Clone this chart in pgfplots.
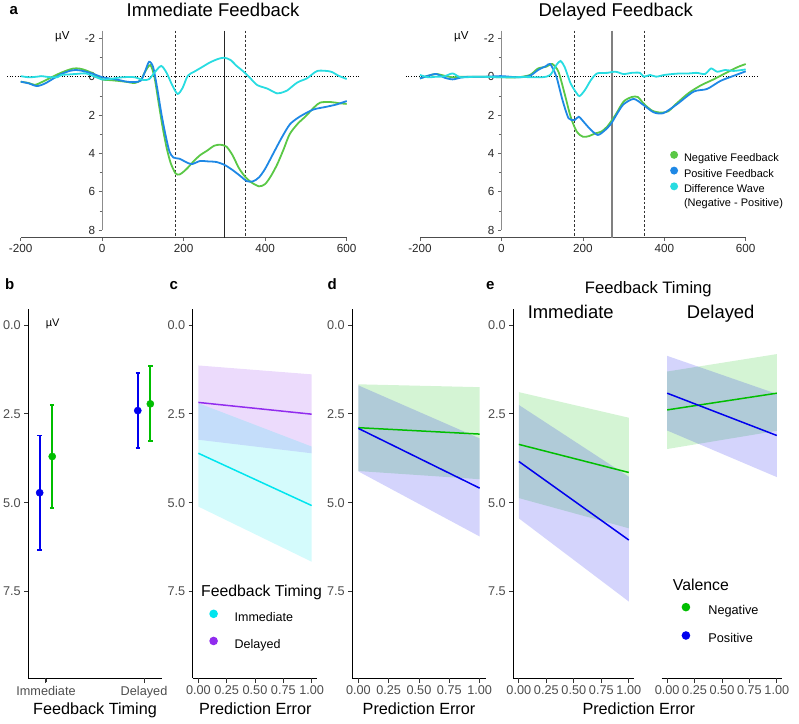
\documentclass[border=0pt]{standalone}
\usepackage{fontspec}
\setmainfont{Liberation Sans}
\usepackage{pgfplots}
\pgfplotsset{compat=1.18}
\definecolor{negG}{RGB}{90,200,70}
\definecolor{posB}{RGB}{30,136,229}
\definecolor{difC}{RGB}{40,220,225}
\definecolor{gG}{RGB}{0,190,0}
\definecolor{bB}{RGB}{0,0,238}
\definecolor{cC}{RGB}{0,229,238}
\definecolor{pP}{RGB}{145,44,238}
\definecolor{tickgray}{RGB}{77,77,77}
\pgfplotsset{
 erp/.style={scale only axis, height=207pt, xmin=-200, xmax=600, ymin=-2.4, ymax=8.4, y dir=reverse,
  axis x line=bottom, axis y line=middle, axis line style={-},
  x axis line style={black!70, line width=0.8pt}, y axis line style={black!45, line width=0.9pt, shorten >=7.5pt},
  clip=false, xtick={-200,0,200,400,600}, xticklabels={-200,0,200,400,600},
  ytick={-2,0,2,4,6,8}, yticklabels={-2,0,2,4,6,8}, minor ytick={-1,1,3,5,7},
  tick align=outside, major tick length=3.5pt, minor tick length=2.5pt,
  tick style={black!60, line width=0.6pt},
  tick label style={font=\fontsize{11.7}{13}\selectfont, text=black!85},
  hide obscured x ticks=false, hide obscured y ticks=false},
 bot/.style={scale only axis, height=369pt, ymin=-0.44, ymax=9.94, y dir=reverse,
  axis x line=bottom, axis y line=left, axis line style={-, black, line width=1pt},
  ytick={0,2.5,5,7.5}, yticklabels={0.0,2.5,5.0,7.5},
  tick align=outside, major tick length=4pt, tick style={black!80, line width=0.8pt},
  tick label style={font=\fontsize{12.7}{14}\selectfont, text=tickgray}, clip=false},
 pe/.style={bot, xmin=-0.05, xmax=1.05, xtick={0,0.25,0.5,0.75,1}, xticklabels={0.00,0.25,0.50,0.75,1.00}},
 wave/.style={line width=1.8pt, smooth, tension=0.45},
 fit/.style={line width=1.5pt},
 band/.style={draw=none, fill opacity=0.17, forget plot},
 eb/.style={line width=1.8pt, forget plot}
}
\begin{document}
\begin{tikzpicture}
\path[use as bounding box] (0,0) rectangle (799pt,723pt);

% ---------- a: Immediate ----------
\begin{axis}[erp, at={(20.7pt,485.3pt)}, anchor=south west, width=326pt]
\addplot[black, dotted, line width=0.6pt, forget plot] coordinates {(-233,0)(634,0)};
\addplot[black!80, dash pattern=on 2.5pt off 2pt, line width=0.6pt] coordinates {(180,-2.4)(180,8.4)};
\addplot[black!80, dash pattern=on 2.5pt off 2pt, line width=0.6pt] coordinates {(350,-2.4)(350,8.4)};
\addplot[black!85, line width=0.8pt] coordinates {(300,-2.4)(300,8.4)};
\addplot[negG, wave] coordinates {(-200,0.26)(-180,0.33)(-165,0.43)(-150,0.3)(-130,0.09)(-110,-0.12)(-90,-0.3)(-70,-0.43)(-55,-0.42)(-40,-0.33)(-20,-0.14)(0,0.14)(20,0.18)(40,0.22)(60,0.27)(80,0.33)(95,0.17)(105,-0.25)(118,-0.61)(128,0.0)(138,1.3)(148,2.6)(158,3.7)(168,4.5)(180,5.05)(190,5.1)(200,4.95)(210,4.75)(225,4.4)(240,4.1)(258,3.85)(275,3.6)(290,3.55)(305,3.65)(320,4.1)(335,4.75)(350,5.2)(365,5.5)(385,5.72)(400,5.6)(415,5.15)(430,4.55)(445,3.8)(460,3.0)(480,2.45)(500,2.05)(520,1.6)(535,1.35)(560,1.32)(580,1.38)(600,1.42)};
\addplot[posB, wave] coordinates {(-200,0.26)(-180,0.35)(-160,0.49)(-140,0.35)(-120,0.1)(-100,-0.14)(-80,-0.3)(-65,-0.35)(-50,-0.31)(-30,-0.2)(-10,-0.05)(0,0.03)(20,0.1)(40,0.17)(60,0.26)(80,0.28)(95,0.2)(105,-0.26)(115,-0.78)(125,-0.5)(135,0.6)(145,1.9)(155,3.0)(165,3.9)(175,4.22)(190,4.28)(205,4.45)(220,4.56)(240,4.4)(260,4.42)(280,4.45)(300,4.6)(320,4.87)(340,5.2)(355,5.45)(370,5.46)(385,5.25)(400,4.8)(420,4.0)(440,3.2)(460,2.5)(480,2.15)(500,1.9)(520,1.7)(550,1.57)(575,1.45)(600,1.27)};
\addplot[difC, wave] coordinates {(-200,-0.03)(-180,0.03)(-160,0.0)(-150,-0.03)(-130,0.02)(-110,0.03)(-100,-0.09)(-80,-0.12)(-60,-0.15)(-40,-0.17)(-20,-0.02)(0,0.14)(20,0.12)(40,0.05)(60,0.02)(80,0.03)(100,0.17)(115,0.13)(130,-0.26)(145,-0.56)(158,-0.2)(172,0.45)(185,0.9)(197,0.6)(210,-0.05)(225,-0.25)(245,-0.5)(265,-0.75)(285,-0.93)(300,-0.99)(315,-0.87)(330,-0.56)(345,-0.3)(360,0.0)(380,0.43)(405,0.62)(429,0.87)(445,0.8)(454,0.72)(479,0.3)(503,0.08)(528,-0.3)(560,-0.27)(580,-0.05)(600,0.12)};
\end{axis}

% ---------- a: Delayed ----------
\begin{axis}[erp, at={(420pt,485.3pt)}, anchor=south west, width=325.7pt,
  legend style={at={(0.7676,0.2796)}, anchor=west, draw=none, fill=none, inner sep=0pt,
   font=\fontsize{11}{12}\selectfont, row sep=2.8pt,
   nodes={inner sep=0pt, text height=8pt, text depth=2.5pt},
   /tikz/every odd column/.append style={column sep=6pt}},
  legend cell align=left,
  legend image code/.code={\fill[#1] (3pt,3.8pt) circle (3pt);}]
\addplot[black, dotted, line width=0.6pt, forget plot] coordinates {(-235,0)(631,0)};
\addplot[black!80, dash pattern=on 2.5pt off 2pt, line width=0.6pt, forget plot] coordinates {(180,-2.4)(180,8.4)};
\addplot[black!80, dash pattern=on 2.5pt off 2pt, line width=0.6pt, forget plot] coordinates {(350,-2.4)(350,8.4)};
\addplot[black!50, line width=1.4pt, forget plot] coordinates {(272,-2.4)(272,8.4)};
\addplot[negG, wave] coordinates {(-200,0.09)(-180,-0.05)(-160,-0.14)(-140,-0.05)(-120,0.03)(-100,0.0)(-80,0.0)(-40,0.0)(0,0.03)(40,0.03)(70,-0.09)(90,-0.43)(110,-0.52)(125,-0.66)(140,-0.26)(155,0.87)(170,2.09)(185,2.87)(200,3.13)(215,3.1)(230,2.96)(245,2.87)(260,2.6)(280,2.0)(300,1.3)(320,1.06)(335,1.06)(350,1.42)(370,1.77)(390,1.87)(410,1.8)(430,1.4)(460,0.85)(490,0.45)(520,0.15)(550,-0.18)(580,-0.5)(600,-0.66)};
\addlegendentry{Negative Feedback}
\addplot[posB, wave] coordinates {(-200,0.09)(-180,-0.05)(-160,-0.14)(-140,0.05)(-120,0.14)(-100,0.05)(-80,0.0)(-40,0.0)(0,-0.03)(40,0.03)(70,-0.05)(90,-0.35)(110,-0.56)(120,-0.66)(135,0.0)(150,1.22)(165,2.17)(180,2.26)(190,2.09)(205,2.43)(220,2.78)(237,3.04)(255,2.78)(270,2.43)(285,1.9)(300,1.44)(325,1.16)(349,1.48)(374,1.86)(398,1.9)(431,1.44)(472,0.78)(505,0.64)(538,0.22)(571,-0.05)(600,-0.28)};
\addlegendentry{Positive Feedback}
\addplot[difC, wave] coordinates {(-200,-0.09)(-180,0.03)(-160,0.0)(-140,-0.02)(-120,-0.17)(-100,0.03)(-60,0.0)(0,0.03)(60,0.02)(100,0.03)(120,-0.09)(135,-0.61)(145,-0.82)(155,-0.52)(170,0.35)(185,0.87)(192,1.01)(205,0.7)(220,0.17)(235,-0.17)(260,-0.2)(280,-0.26)(300,-0.14)(320,-0.2)(340,-0.2)(350,0.0)(365,-0.09)(380,0.0)(400,-0.09)(420,-0.14)(440,-0.17)(460,-0.17)(480,-0.2)(500,-0.14)(515,-0.43)(530,-0.26)(550,-0.35)(570,-0.3)(600,-0.38)};
\addlegendentry{Difference Wave}
\addlegendimage{empty legend}
\addlegendentry{(Negative - Positive)}
\end{axis}

% ---------- b ----------
\begin{axis}[bot, at={(28.3pt,44.7pt)}, anchor=south west, width=133.4pt,
  xmin=0.82, xmax=2.18, xtick={1,2}, xticklabels={Immediate,Delayed}]
\addplot[bB, eb] coordinates {(0.936,3.11)(0.936,6.33)};
\addplot[bB, eb] coordinates {(0.913,3.11)(0.959,3.11)};
\addplot[bB, eb] coordinates {(0.913,6.33)(0.959,6.33)};
\addplot[bB, eb] coordinates {(1.936,1.355)(1.936,3.465)};
\addplot[bB, eb] coordinates {(1.913,1.355)(1.959,1.355)};
\addplot[bB, eb] coordinates {(1.913,3.465)(1.959,3.465)};
\addplot[gG, eb] coordinates {(1.064,2.245)(1.064,5.155)};
\addplot[gG, eb] coordinates {(1.041,2.245)(1.087,2.245)};
\addplot[gG, eb] coordinates {(1.041,5.155)(1.087,5.155)};
\addplot[gG, eb] coordinates {(2.064,1.165)(2.064,3.275)};
\addplot[gG, eb] coordinates {(2.041,1.165)(2.087,1.165)};
\addplot[gG, eb] coordinates {(2.041,3.275)(2.087,3.275)};
\addplot[bB, only marks, mark=*, mark size=3.6pt] coordinates {(0.936,4.72)(1.936,2.41)};
\addplot[gG, only marks, mark=*, mark size=3.6pt] coordinates {(1.064,3.70)(2.064,2.22)};
\end{axis}

% ---------- c ----------
\begin{axis}[pe, at={(192.7pt,44.7pt)}, anchor=south west, width=124.6pt,
  legend style={at={(0.132,0.1295)}, anchor=west, draw=none, fill=none, inner sep=0pt,
   font=\fontsize{12.5}{14}\selectfont, row sep=12.4pt,
   nodes={inner sep=0pt, text height=9pt, text depth=3pt},
   /tikz/every odd column/.append style={column sep=16.8pt}},
  legend cell align=left,
  legend image code/.code={\fill[#1] (3.5pt,4.5pt) circle (3.5pt);}]
\addplot[band, fill=pP] coordinates {(0,1.14)(1,1.39)(1,3.61)(0,3.23)} -- cycle;
\addplot[band, fill=cC] coordinates {(0,2.20)(1,3.42)(1,6.66)(0,5.11)} -- cycle;
\addplot[cC, fit] coordinates {(0,3.61)(1,5.08)};
\addlegendentry{Immediate}
\addplot[pP, fit] coordinates {(0,2.18)(1,2.51)};
\addlegendentry{Delayed}
\end{axis}

% ---------- d ----------
\begin{axis}[pe, at={(352.3pt,44.7pt)}, anchor=south west, width=133.4pt]
\addplot[band, fill=gG] coordinates {(0,1.67)(1,1.75)(1,4.34)(0,4.11)} -- cycle;
\addplot[band, fill=bB] coordinates {(0,1.70)(1,3.19)(1,5.95)(0,4.12)} -- cycle;
\addplot[gG, fit] coordinates {(0,2.89)(1,3.07)};
\addplot[bB, fit] coordinates {(0,2.91)(1,4.59)};
\end{axis}

% ---------- e: Immediate ----------
\begin{axis}[pe, at={(513.3pt,44.7pt)}, anchor=south west, width=121pt]
\addplot[band, fill=gG] coordinates {(0,1.89)(1,2.61)(1,5.72)(0,4.87)} -- cycle;
\addplot[band, fill=bB] coordinates {(0,2.25)(1,4.27)(1,7.78)(0,5.44)} -- cycle;
\addplot[gG, fit] coordinates {(0,3.36)(1,4.15)};
\addplot[bB, fit] coordinates {(0,3.84)(1,6.05)};
\end{axis}

% ---------- e: Delayed ----------
\begin{axis}[pe, at={(661.7pt,44.7pt)}, anchor=south west, width=120.6pt,
  axis y line=none, ytick=\empty,
  legend style={at={(0.164,0.146)}, anchor=west, draw=none, fill=none, inner sep=0pt,
   font=\fontsize{12.7}{14}\selectfont, row sep=13.6pt,
   nodes={inner sep=0pt, text height=9pt, text depth=3pt},
   /tikz/every odd column/.append style={column sep=18.2pt}},
  legend cell align=left,
  legend image code/.code={\fill[#1] (3.5pt,4.5pt) circle (3.5pt);}]
\addplot[band, fill=gG] coordinates {(0,1.31)(1,0.82)(1,2.98)(0,3.49)} -- cycle;
\addplot[band, fill=bB] coordinates {(0,0.87)(1,1.94)(1,4.28)(0,2.97)} -- cycle;
\addplot[gG, fit] coordinates {(0,2.39)(1,1.92)};
\addlegendentry{Negative}
\addplot[bB, fit] coordinates {(0,1.92)(1,3.11)};
\addlegendentry{Positive}
\end{axis}

% ---------- bottom x axis lines and ticks ----------
\fill[black] (28.3pt,44.2pt) rectangle (161.7pt,45.4pt);
\fill[black] (192.7pt,44.2pt) rectangle (317.3pt,45.4pt);
\fill[black] (352.3pt,44.2pt) rectangle (485.7pt,45.4pt);
\fill[black] (513.3pt,44.2pt) rectangle (634.3pt,45.4pt);
\fill[black] (661.7pt,44.2pt) rectangle (782.3pt,45.4pt);
\foreach \x in {45.96,144.04,198.36,226.68,255.0,283.3,311.6,358.36,388.68,419.0,449.3,479.6,518.8,546.3,573.8,601.3,628.8,667.2,694.6,722.0,749.4,776.8}
  \fill[black!80] (\x pt-0.5pt,44.7pt) rectangle (\x pt+0.5pt,40.2pt);

% ---------- texts ----------
\node[anchor=base west, font=\fontsize{15}{16}\selectfont\bfseries] at (6pt,708pt) {a};
\node[anchor=base, font=\fontsize{18.5}{20}\selectfont] at (213pt,706.3pt) {Immediate Feedback};
\node[anchor=base, font=\fontsize{18.5}{20}\selectfont] at (615.7pt,706.3pt) {Delayed Feedback};
\node[anchor=base west, font=\fontsize{11.5}{12}\selectfont, inner sep=0pt] at (55pt,683pt) {µV};
\node[anchor=base west, font=\fontsize{11.5}{12}\selectfont, inner sep=0pt] at (454pt,683pt) {µV};
\node[anchor=base west, font=\fontsize{11}{12}\selectfont, inner sep=0pt] at (45.7pt,396pt) {µV};

\node[anchor=base west, font=\fontsize{15}{16}\selectfont\bfseries, inner sep=0pt] at (5pt,433pt) {b};
\node[anchor=base west, font=\fontsize{15}{16}\selectfont\bfseries, inner sep=0pt] at (169.3pt,433pt) {c};
\node[anchor=base west, font=\fontsize{15}{16}\selectfont\bfseries, inner sep=0pt] at (327.3pt,433pt) {d};
\node[anchor=base west, font=\fontsize{15}{16}\selectfont\bfseries, inner sep=0pt] at (486pt,433pt) {e};

\node[anchor=base, font=\fontsize{16.2}{18}\selectfont] at (95pt,8.7pt) {Feedback Timing};
\node[anchor=base, font=\fontsize{16.2}{18}\selectfont] at (255.3pt,8.7pt) {Prediction Error};
\node[anchor=base, font=\fontsize{16.2}{18}\selectfont] at (419pt,8.7pt) {Prediction Error};
\node[anchor=base, font=\fontsize{16.2}{18}\selectfont] at (638.8pt,8.7pt) {Prediction Error};

\node[anchor=base, font=\fontsize{16.6}{18}\selectfont] at (648.3pt,429.4pt) {Feedback Timing};
\node[anchor=base, font=\fontsize{18.4}{20}\selectfont] at (570.7pt,404.8pt) {Immediate};
\node[anchor=base, font=\fontsize{18.4}{20}\selectfont] at (720.7pt,404.8pt) {Delayed};

\node[anchor=base west, font=\fontsize{15.8}{17}\selectfont, inner sep=0pt] at (201pt,126.7pt) {Feedback Timing};
\node[anchor=base west, font=\fontsize{15.8}{17}\selectfont, inner sep=0pt] at (672.7pt,133pt) {Valence};
\end{tikzpicture}
\end{document}
